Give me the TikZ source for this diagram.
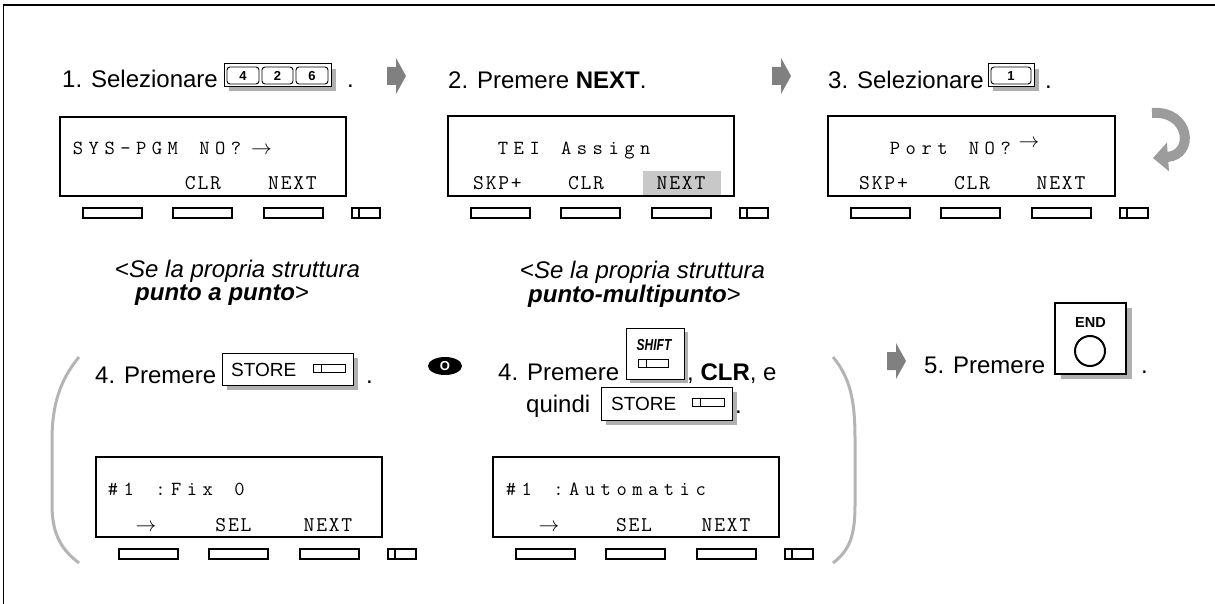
\documentclass[tikz,border=0pt]{standalone}
\usepackage{fontspec}
\setmainfont{Liberation Sans}
\usetikzlibrary{arrows.meta}
\definecolor{arrowgray}{HTML}{808080}
\definecolor{curvegray}{HTML}{9C9C9C}
\definecolor{parengray}{HTML}{B4B4B4}
\definecolor{shadowgray}{HTML}{B0B0B0}
\definecolor{hlgray}{HTML}{C8C8C8}
\makeatletter
\newcommand\lcdfixed[2]{\def\lcd@pitch{#1}\lcd@#2\relax}
\def\lcd@#1{\ifx\relax#1\else\makebox[\lcd@pitch][c]{#1}\expandafter\lcd@\fi}
\makeatother
\newcommand\steparrow[2]{\fill[arrowgray] (#1,#2-9) -- (#1+9,#2-9) -- (#1+9,#2-18) -- (#1+19,#2) -- (#1+9,#2+18) -- (#1+9,#2+9) -- (#1,#2+9) -- cycle;}
\newcommand\softkeys[2]{%
  \foreach \a/\b in {23/82,113/172,204/263}{\draw[softkey] (#1+\a,#2) rectangle (#1+\b,#2+10);}
  \draw[softkey] (#1+292,#2) rectangle (#1+320,#2+10);
  \draw[softkey] (#1+299,#2) -- (#1+299,#2+10);}
\newcommand\keyicon[3]{\draw[line width=1pt, fill=white] (#1,#2) rectangle (#1+#3,#2+8); \draw[line width=1pt] (#1+8,#2) -- (#1+8,#2+8);}
\begin{document}
\begin{tikzpicture}[x=1pt,y=-1pt,
  txt/.style={font=\fontsize{24}{28}\selectfont, inner sep=0pt, anchor=base west},
  lcdtxt/.style={font=\ttfamily\fontsize{20}{22}\selectfont, inner sep=0pt, anchor=base west},
  lcdlbl/.style={font=\ttfamily\fontsize{21}{22}\selectfont, inner sep=0pt, anchor=base},
  lcdbox/.style={draw, line width=2pt},
  softkey/.style={draw, line width=1.1pt, fill=white},
  keyframe/.style={draw, line width=1pt, fill=white},
  keyshadow/.style={fill=shadowgray},
  digitkey/.style={draw, line width=0.9pt, rounded corners=3pt},
  digit/.style={font=\bfseries\fontsize{13}{14}\selectfont, inner sep=0pt},
  paren/.style={draw=parengray, line width=3pt}]
\useasboundingbox (0,0) rectangle (1215,604);
% outer frame
\draw[line width=2pt] (3,5) -- (1215,5);
\draw[line width=1pt] (3,5) -- (3,604);

% ---------- row 1 ----------
\node[txt] (s1) at (62,88) {1. Selezionare};
\fill[keyshadow] (229,69) rectangle (336,91);
\draw[keyframe] (224,64) rectangle (331,87);
\draw[digitkey] (227,67) rectangle (259,84);
\draw[digitkey] (262,67) rectangle (293,84);
\draw[digitkey] (296,67) rectangle (328,84);
\node[digit] (k4) at (243,76) {4};
\node[digit] (k2) at (277.5,76) {2};
\node[digit] (k6) at (312,76) {6};
\node[txt] (d1) at (347,88) {.};
\steparrow{387}{76}

\node[txt] (s2) at (448,89) {2. Premere \textbf{NEXT}.};
\steparrow{772}{76}

\node[txt] (s3) at (828,89) {3. Selezionare};
\fill[keyshadow] (993,69) rectangle (1039,91);
\draw[keyframe] (988,64) rectangle (1034,87);
\draw[digitkey] (991,67) rectangle (1031,84);
\node[digit] (k1) at (1011,76) {1};
\node[txt] (d3) at (1045,89) {.};

% LCD 1
\draw[lcdbox] (60,117) rectangle (346,196);
\node[lcdtxt] (l1) at (70,155) {\lcdfixed{15.8pt}{SYS-PGM~NO?}\kern7pt$\rightarrow$};
\node[lcdlbl] (l1b) at (203,190) {\lcdfixed{12.6pt}{CLR}};
\node[lcdlbl] (l1c) at (292.5,190) {\lcdfixed{12.6pt}{NEXT}};
\softkeys{60}{208}

% LCD 2
\fill[hlgray] (643,171) rectangle (721,195);
\draw[lcdbox] (448,116) rectangle (734,196);
\node[lcdtxt] (l2) at (495,155) {\lcdfixed{15.8pt}{TEI~Assign}};
\node[lcdlbl] (l2a) at (497.5,190) {\lcdfixed{12.6pt}{SKP+}};
\node[lcdlbl] (l2b) at (586,190) {\lcdfixed{12.6pt}{CLR}};
\node[lcdlbl] (l2c) at (681,190) {\lcdfixed{12.6pt}{NEXT}};
\softkeys{448}{208}

% LCD 3
\draw[lcdbox] (828,116) rectangle (1115,196);
\node[lcdtxt] (l3) at (887,155) {\lcdfixed{15.8pt}{Port~NO?}\kern5pt\raisebox{7pt}{$\rightarrow$}};
\node[lcdlbl] (l3a) at (883.5,190) {\lcdfixed{12.6pt}{SKP+}};
\node[lcdlbl] (l3b) at (972,190) {\lcdfixed{12.6pt}{CLR}};
\node[lcdlbl] (l3c) at (1061,190) {\lcdfixed{12.6pt}{NEXT}};
\softkeys{828}{208}

% curved arrow
\draw[line width=10pt, curvegray, -{Triangle[length=15pt,width=28pt]}] (1152,113) .. controls (1190,110) and (1195,155) .. (1153,158);

% ---------- captions ----------
\node[txt] (c1a) at (115,277) {<\textit{Se la propria struttura}};
\node[txt] (c1b) at (135,300) {\textbf{\textit{punto a punto}}>};
\node[txt] (c2a) at (520,278) {<\textit{Se la propria struttura}};
\node[txt] (c2b) at (528,302) {\textbf{\textit{punto-multipunto}}>};

% ---------- row 2 ----------
\draw[paren] (79,357) .. controls (60,380) and (52,405) .. (52,440) -- (52,505) .. controls (52,535) and (62,550) .. (79,563);
\draw[paren] (833,357) .. controls (852,380) and (855,405) .. (855,440) -- (855,505) .. controls (855,535) and (850,550) .. (833,563);

\node[txt] (p4a) at (95,383) {4. Premere};
\fill[keyshadow] (227,358) rectangle (358,390);
\draw[keyframe] (222,353) rectangle (353,385);
\node[font=\fontsize{19}{20}\selectfont, inner sep=0pt, anchor=base west] (st1) at (231,376) {STORE};
\keyicon{313}{364}{32}
\node[txt] (d4a) at (366,383) {.};

\fill (445,366) ellipse [x radius=17pt, y radius=9pt];
\node[font=\bfseries\fontsize{13}{14}\selectfont, text=white, inner sep=0pt] (orsym) at (445,366) {O};

\node[txt] (p4b) at (498,380) {4. Premere};
\fill[keyshadow] (630,332) rectangle (688,383);
\draw[keyframe] (626,328) rectangle (684,379);
\node[font=\bfseries\itshape\fontsize{16}{17}\selectfont, inner sep=0pt, anchor=base] (shift) at (654,350) {\scalebox{0.75}[1]{SHIFT}};
\keyicon{638}{359}{30}
\node[txt] (p4c) at (687,380) {, \textbf{CLR}, e};
\node[txt] (p4d) at (526,412) {quindi};
\fill[keyshadow] (606,392) rectangle (737,425);
\draw[keyframe] (601,387) rectangle (732,420);
\node[font=\fontsize{19}{20}\selectfont, inner sep=0pt, anchor=base west] (st2) at (611,410) {STORE};
\keyicon{692}{398}{32}
\node[txt] (d4b) at (735,413) {.};

\steparrow{887}{361}
\node[txt] (p5) at (924,373) {5. Premere};
\fill[keyshadow] (1061,308) rectangle (1132,379);
\draw[keyframe, line width=1.6pt] (1055,303) rectangle (1126,374);
\node[font=\bfseries\fontsize{14.5}{16}\selectfont, inner sep=0pt, anchor=base] (endl) at (1090.5,327) {END};
\draw[line width=2pt] (1090,351) circle [radius=15pt];
\node[txt] (d5) at (1141,373) {.};

% LCD 4
\draw[lcdbox] (96,457) rectangle (382,537);
\node[lcdtxt] (l4) at (105,495) {\lcdfixed{15.8pt}{\#1~:Fix~0}};
\node[lcdlbl] (l4a) at (146,531) {$\rightarrow$};
\node[lcdlbl] (l4b) at (233.5,531) {\lcdfixed{12.6pt}{SEL}};
\node[lcdlbl] (l4c) at (328,531) {\lcdfixed{12.6pt}{NEXT}};
\softkeys{96}{549}

% LCD 5
\draw[lcdbox] (493,457) rectangle (779,537);
\node[lcdtxt] (l5) at (503,495) {\lcdfixed{15.8pt}{\#1~:Automatic}};
\node[lcdlbl] (l5a) at (549,531) {$\rightarrow$};
\node[lcdlbl] (l5b) at (634,531) {\lcdfixed{12.6pt}{SEL}};
\node[lcdlbl] (l5c) at (726,531) {\lcdfixed{12.6pt}{NEXT}};
\softkeys{493}{549}
\end{tikzpicture}
\end{document}
